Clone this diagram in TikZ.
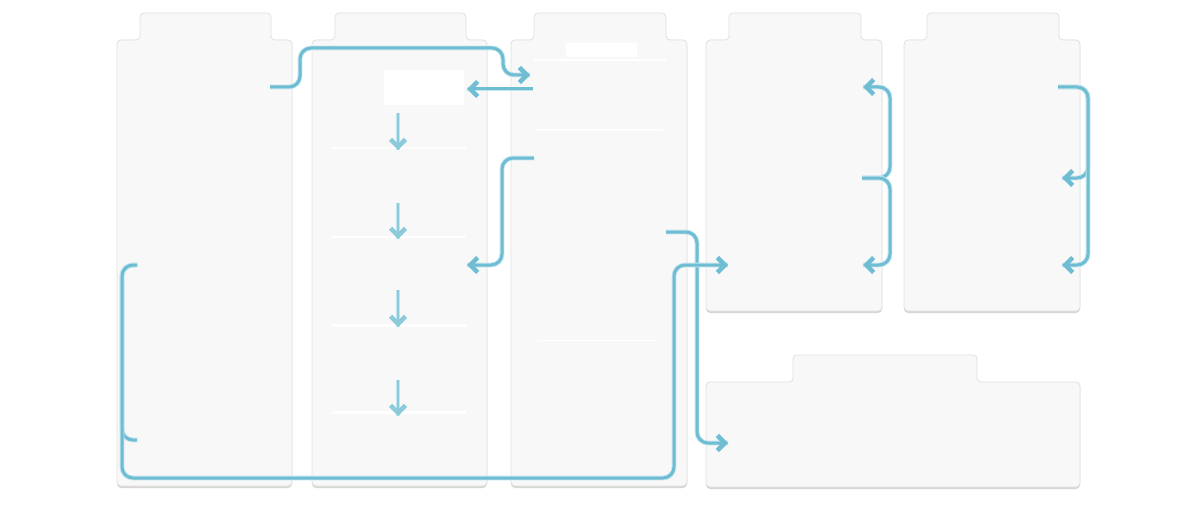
\documentclass[tikz,border=0pt]{standalone}
\usetikzlibrary{arrows.meta}
\definecolor{panelfill}{HTML}{F8F8F8}
\definecolor{paneledge}{HTML}{E0E0E0}
\definecolor{panelshadow}{HTML}{D6D6D6}
\definecolor{teal}{HTML}{6EBDD2}
\definecolor{teallight}{HTML}{C4E5EF}
\newcommand\tabpanel[7]{%
  \fill[panelshadow,rounded corners=4pt] (#1,#7+2) -- (#1,#6) -- (#2,#6) -- (#2,#7+2) -- cycle;
  \path[panelstyle] (#1,#7) -- (#1,#6) -- (#3,#6) -- (#3,#5) -- (#4,#5) -- (#4,#6) -- (#2,#6) -- (#2,#7) -- cycle;}
\tikzset{
  panelstyle/.style={fill=panelfill,draw=paneledge,line width=0.8pt,rounded corners=4pt},
  strip/.style={fill=white,draw=none},
  tipstyle/.style={-{Straight Barb[length=7.5pt,width=15pt,line width=4.5pt]}},
  conn/.style={draw=teal,line width=3pt,rounded corners=11pt,
    preaction={draw=teallight,line width=4.8pt,-},
    tipstyle},
  link/.style={draw=teal,line width=3pt,rounded corners=11pt,
    preaction={draw=teallight,line width=4.8pt}},
  down/.style={draw=teal!80,line width=2.6pt,
    preaction={draw=teallight,line width=4.2pt,-},
    tipstyle}
}
\begin{document}
\begin{tikzpicture}[x=1pt,y=-1pt]
\useasboundingbox (0,0) rectangle (1200,519);
\fill[white] (0,0) rectangle (1200,519);
% panels
\tabpanel{117}{292}{140}{271}{13}{40}{486}
\tabpanel{312}{487}{335}{466}{13}{40}{486}
\tabpanel{511}{687}{534}{666}{13}{40}{486}
\tabpanel{706}{882}{729}{861}{13}{40}{311}
\tabpanel{904}{1080}{927}{1059}{13}{40}{311}
\tabpanel{706}{1080}{793}{977}{355}{382}{487}
% faint inner strips
\fill[strip] (384,70) rectangle (464,105);
\fill[strip] (332,147) rectangle (466,149);
\fill[strip] (332,236) rectangle (466,238);
\fill[strip] (332,324) rectangle (466,327);
\fill[strip] (332,411) rectangle (466,414);
\fill[strip] (566,43) rectangle (637,57);
\fill[strip] (534,59) rectangle (666,61);
\fill[strip] (535,129) rectangle (663,131);
\fill[strip] (538,340) rectangle (658,341);
% connector end points
\coordinate (aOut) at (270,87);
\coordinate (cIn) at (530,75);
\coordinate (cOut1) at (533,89);
\coordinate (bIn1) at (467,89);
\coordinate (cOut2) at (534,158);
\coordinate (bIn2) at (467,265);
\coordinate (aTop) at (137,265);
\coordinate (aBot) at (137,440);
\coordinate (dIn1) at (728,265);
\coordinate (cOut3) at (666,232);
\coordinate (fIn) at (728,443);
\coordinate (dMid) at (862,178);
\coordinate (dIn2) at (863,87);
\coordinate (dIn3) at (863,265);
\coordinate (eOut) at (1058,87);
\coordinate (eIn1) at (1062,178);
\coordinate (eIn2) at (1062,265);
% down arrows in panel 2
\foreach \ya/\yb [count=\i] in {113/150,203/239,290/327,380/416}{
  \coordinate (s\i) at (398,\ya);
  \coordinate (t\i) at (398,\yb);
  \draw[down] (s\i) -- (t\i);
}
% connectors
\draw[conn] (aOut) -- (300,87) -- (300,48) -- (503,48) -- (503,75) -- (cIn);
\draw[conn] (cOut1) -- (bIn1);
\draw[conn] (cOut2) -- (502,158) -- (502,265) -- (bIn2);
\draw[conn] (cOut3) -- (697,232) -- (697,443) -- (fIn);
\draw[link] (aTop) -- (122,265) -- (122,440) -- (aBot);
\draw[conn] (aTop) -- (122,265) -- (122,478) -- (674,478) -- (674,265) -- (dIn1);
\draw[conn] (dMid) -- (890,178) -- (890,87) -- (dIn2);
\draw[conn] (dMid) -- (890,178) -- (890,265) -- (dIn3);
\draw[conn] (eOut) -- (1088,87) -- (1088,178) -- (eIn1);
\draw[conn] (eOut) -- (1088,87) -- (1088,265) -- (eIn2);
\end{tikzpicture}
\end{document}
